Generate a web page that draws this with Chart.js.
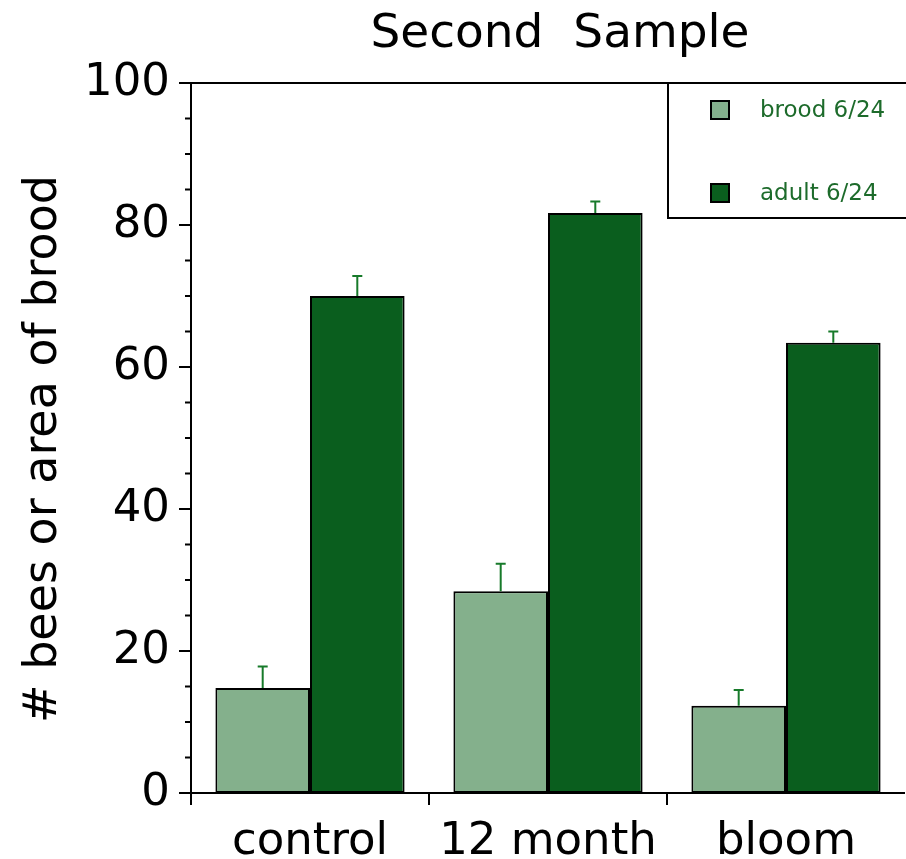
<!DOCTYPE html>
<html>
<head>
<meta charset="utf-8">
<script src="https://cdn.jsdelivr.net/npm/chart.js@4.4.1/dist/chart.umd.min.js"></script>
<style>
  html, body { margin: 0; padding: 0; background: #fff; }
  #wrap { width: 906px; height: 859px; }
</style>
</head>
<body>
<div id="wrap"><canvas id="chart" width="906" height="859"></canvas></div>
<script>
// values
const categories = ["control", "12 month", "bloom"];
const seriesNames = ["brood 6/24", "adult 6/24"];
const broodValues = [14.8, 28.4, 12.3];
const adultValues = [70.0, 81.7, 63.4];
const broodErr = [3.0, 3.9, 2.2];
const adultErr = [2.8, 1.6, 1.6];
const yTickLabels = [0, 20, 40, 60, 80, 100];

const FONT = "'DejaVu Sans', sans-serif";
const ERR_COLOR = "#177a2a";
const LEGEND_TEXT = "#1d6b2b";

// axes frame, ticks, error bars, title and legend
const decorations = {
  id: "decorations",
  afterDatasetsDraw(chart) {
    const ctx = chart.ctx;
    const area = chart.chartArea;
    const x = chart.scales.x;
    const y = chart.scales.y;
    ctx.save();

    // error bars (upper only)
    chart.data.datasets.forEach((ds, di) => {
      const meta = chart.getDatasetMeta(di);
      meta.data.forEach((bar, i) => {
        const top = y.getPixelForValue(ds.data[i] + ds.errors[i]);
        ctx.strokeStyle = ERR_COLOR;
        ctx.lineWidth = 2;
        ctx.beginPath();
        ctx.moveTo(bar.x, bar.y);
        ctx.lineTo(bar.x, top);
        ctx.moveTo(bar.x - 5, top);
        ctx.lineTo(bar.x + 5, top);
        ctx.stroke();
      });
    });

    ctx.strokeStyle = "#000";
    ctx.lineWidth = 2;
    ctx.beginPath();
    // left axis
    ctx.moveTo(area.left, area.top);
    ctx.lineTo(area.left, area.bottom + 12);
    // top frame
    ctx.moveTo(area.left, area.top);
    ctx.lineTo(chart.width, area.top);
    // bottom axis
    ctx.moveTo(area.left, area.bottom);
    ctx.lineTo(area.right, area.bottom);
    // y ticks
    y.ticks.forEach(t => {
      const py = y.getPixelForValue(t.value);
      const len = t.value % 20 === 0 ? 12 : 6;
      ctx.moveTo(area.left - len, py);
      ctx.lineTo(area.left, py);
    });
    // category boundary ticks
    for (let i = 1; i < categories.length; i++) {
      const px = x.getPixelForValue(i - 0.5);
      ctx.moveTo(px, area.bottom);
      ctx.lineTo(px, area.bottom + 12);
    }
    ctx.stroke();

    // title
    ctx.fillStyle = "#000";
    ctx.font = "47px " + FONT;
    ctx.textAlign = "center";
    ctx.textBaseline = "middle";
    ctx.fillText("Second  Sample", 560, 35);

    // y axis title
    ctx.save();
    ctx.translate(44, 449);
    ctx.rotate(-Math.PI / 2);
    ctx.font = "46px " + FONT;
    ctx.fillText("# bees or area of brood", 0, 0);
    ctx.restore();

    // legend
    const lx = area.right - 237, ly = area.top, lw = 240, lh = 135;
    ctx.fillStyle = "#fff";
    ctx.fillRect(lx, ly, lw, lh);
    ctx.strokeRect(lx, ly, lw, lh);
    ctx.font = "23px " + FONT;
    ctx.textAlign = "left";
    chart.data.datasets.forEach((ds, di) => {
      const cy = ly + 27 + di * 83;
      ctx.fillStyle = ds.backgroundColor;
      ctx.fillRect(lx + 43, cy - 9, 18, 18);
      ctx.strokeRect(lx + 43, cy - 9, 18, 18);
      ctx.fillStyle = LEGEND_TEXT;
      ctx.fillText(ds.label, lx + 92, cy + 1);
    });

    ctx.restore();
  }
};

new Chart(document.getElementById("chart"), {
  type: "bar",
  data: {
    labels: categories,
    datasets: [
      {
        label: seriesNames[0],
        data: broodValues,
        errors: broodErr,
        backgroundColor: "#84b08c",
        borderColor: "#000",
        borderWidth: 2,
        borderSkipped: false,
      },
      {
        label: seriesNames[1],
        data: adultValues,
        errors: adultErr,
        backgroundColor: "#0a5e1e",
        borderColor: "#000",
        borderWidth: 2,
        borderSkipped: false,
      },
    ],
  },
  options: {
    responsive: false,
    animation: false,
    layout: { padding: { top: 83, left: 0, right: 1, bottom: 0 } },
    plugins: {
      legend: { display: false },
      title: { display: false },
      tooltip: { enabled: false },
    },
    datasets: {
      bar: { categoryPercentage: 0.795, barPercentage: 1.0 },
    },
    scales: {
      x: {
        grid: { display: false },
        border: { display: false },
        ticks: {
          color: "#000",
          font: { family: FONT, size: 45 },
          padding: 14,
          maxRotation: 0,
          autoSkip: false,
        },
        afterFit(scale) { scale.height = 66; },
      },
      y: {
        min: 0,
        max: 100,
        grid: { display: false, drawTicks: false },
        border: { display: false },
        ticks: {
          stepSize: 5,
          autoSkip: false,
          color: "#000",
          font: { family: FONT, size: 45 },
          padding: 21,
          callback: v => (yTickLabels.includes(v) ? String(v) : ""),
        },
        afterFit(scale) { scale.width = 191; },
      },
    },
  },
  plugins: [decorations],
});
</script>
</body>
</html>
